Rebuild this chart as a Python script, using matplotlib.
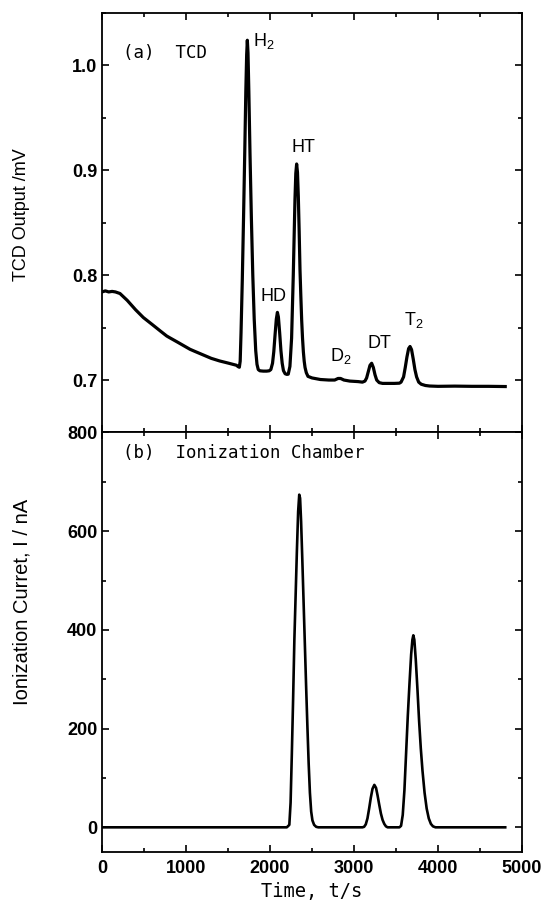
import matplotlib
matplotlib.use('Agg')
import matplotlib.pyplot as plt
from matplotlib.ticker import MultipleLocator, FormatStrFormatter

# ---- DATA ----
tcd_time = [0, 40, 80, 120, 160, 214, 300, 400, 492, 600, 700, 770, 800, 900,
            1000, 1048, 1100, 1200, 1300, 1400, 1500, 1600, 1620, 1635,
            1645, 1655, 1670, 1685, 1700, 1712, 1722, 1730, 1738, 1748, 1762,
            1778, 1795, 1812, 1830, 1845, 1860, 1880, 1920, 1960, 1990,
            2010, 2030, 2045, 2060, 2075, 2088, 2100, 2115, 2130, 2145, 2160,
            2180, 2200, 2217, 2237, 2257, 2277, 2297, 2307, 2317, 2327, 2337,
            2347, 2357, 2367, 2377, 2387, 2397, 2407, 2417, 2432, 2452, 2500,
            2600, 2700, 2770, 2810, 2840, 2880, 2950, 3050, 3100, 3130, 3150,
            3170, 3190, 3210, 3230, 3250, 3270, 3300, 3340, 3400, 3480, 3540,
            3560, 3590, 3610, 3630, 3650, 3667, 3685, 3705, 3725, 3745, 3770,
            3800, 3850, 3900, 4000, 4200, 4400, 4600, 4800]
tcd_mv = [0.784, 0.785, 0.784, 0.7845, 0.784, 0.7825, 0.776, 0.767, 0.7596,
          0.7528, 0.7464, 0.742, 0.7406, 0.7361, 0.7315, 0.7293, 0.7275,
          0.7241, 0.7207, 0.7182, 0.7162, 0.7141, 0.7128, 0.7122,
          0.718, 0.745, 0.795, 0.855, 0.92, 0.975, 1.010, 1.024, 1.012, 0.975,
          0.915, 0.855, 0.80, 0.758, 0.728, 0.715, 0.710, 0.7088, 0.7085,
          0.7085, 0.7088, 0.710, 0.716, 0.727, 0.743, 0.758, 0.7645, 0.760,
          0.745, 0.728, 0.716, 0.709, 0.706, 0.7054, 0.7056, 0.713, 0.74,
          0.80, 0.872, 0.897, 0.906, 0.898, 0.875, 0.842, 0.805, 0.78, 0.757,
          0.74, 0.727, 0.718, 0.712, 0.707, 0.7035, 0.702, 0.7005, 0.700,
          0.700, 0.7015, 0.7015, 0.700, 0.699, 0.6985, 0.698, 0.699, 0.702,
          0.708, 0.714, 0.716, 0.712, 0.705, 0.700, 0.6975, 0.6968, 0.6968,
          0.6968, 0.697, 0.698, 0.703, 0.712, 0.722, 0.730, 0.732, 0.729,
          0.720, 0.710, 0.703, 0.698, 0.696, 0.6948, 0.6943, 0.694, 0.6942,
          0.694, 0.694, 0.6938]

ion_time = [0, 1000, 2000, 2200, 2230, 2245, 2260, 2275, 2290, 2305, 2320,
            2335, 2348, 2358, 2370, 2385, 2400, 2415, 2430, 2445, 2460, 2475,
            2490, 2505, 2525, 2550, 2575, 3100, 3120, 3140, 3160, 3180, 3200,
            3220, 3242, 3262, 3280, 3300, 3320, 3340, 3360, 3380, 3400, 3540,
            3560, 3580, 3600, 3620, 3640, 3660, 3680, 3695, 3706, 3718, 3735,
            3755, 3775, 3795, 3815, 3840, 3865, 3890, 3915, 3940, 3970, 4800]
ion_na = [0, 0, 0, 0, 5, 50, 150, 260, 380, 470, 560, 640, 674, 667, 620,
          540, 455, 370, 285, 205, 130, 70, 32, 14, 5, 1, 0, 0, 1, 6, 18, 38,
          60, 78, 86, 80, 65, 46, 28, 15, 7, 2, 0, 0, 3, 25, 75, 150, 225,
          290, 350, 380, 389, 380, 340, 280, 215, 160, 115, 70, 38, 18, 7, 2,
          0, 0]

peak_labels = ['H$_2$', 'HD', 'HT', 'D$_2$', 'DT', 'T$_2$']
peak_label_t = [1798, 1881, 2258, 2714, 3159, 3595]
peak_label_v = [1.0237, 0.7798, 0.9218, 0.7225, 0.735, 0.7575]

# ---- PLOT ----
plt.rcParams['font.family'] = ['Liberation Sans', 'DejaVu Sans']
plt.rcParams['mathtext.fontset'] = 'custom'
plt.rcParams['mathtext.rm'] = 'Liberation Sans'
plt.rcParams['axes.linewidth'] = 1.3

fig, (ax1, ax2) = plt.subplots(2, 1, sharex=True, figsize=(5.44, 9.06), dpi=100)
fig.subplots_adjust(left=0.1875, right=0.9596, top=0.9857, bottom=0.0596, hspace=0)

ax1.plot(tcd_time, tcd_mv, color='black', lw=2.3, solid_joinstyle='round')
ax2.plot(ion_time, ion_na, color='black', lw=1.9, solid_joinstyle='round')

ax1.set_xlim(0, 5000)
ax1.set_ylim(0.65, 1.05)
ax2.set_ylim(-50, 800)

ax1.yaxis.set_major_locator(MultipleLocator(0.1))
ax1.yaxis.set_minor_locator(MultipleLocator(0.05))
ax1.yaxis.set_major_formatter(FormatStrFormatter('%.1f'))
ax2.yaxis.set_major_locator(MultipleLocator(200))
ax2.yaxis.set_minor_locator(MultipleLocator(100))
ax2.xaxis.set_major_locator(MultipleLocator(1000))
ax2.xaxis.set_minor_locator(MultipleLocator(500))

for ax in (ax1, ax2):
    ax.tick_params(which='both', direction='in', top=True, right=True, width=1.2)
    ax.tick_params(which='major', length=5)
    ax.tick_params(which='minor', length=3)
ax1.set_yticks([0.7, 0.8, 0.9, 1.0])
ax2.set_yticks([0, 200, 400, 600, 800])
for lab in ax1.get_yticklabels() + ax2.get_yticklabels() + ax2.get_xticklabels():
    lab.set_fontsize(13)
    lab.set_fontweight('bold')
ax2.tick_params(axis='x', pad=6)

for lab, t, v in zip(peak_labels, peak_label_t, peak_label_v):
    ax1.text(t, v, lab, fontsize=13, ha='left', va='center')

ax1.text(0.05, 0.905, '(a)  TCD', transform=ax1.transAxes, fontsize=12.5,
         family='DejaVu Sans Mono', va='center')
ax2.text(0.05, 0.95, '(b)  Ionization Chamber', transform=ax2.transAxes,
         fontsize=12.5, family='DejaVu Sans Mono', va='center')

fig.text(22 / 544, 1 - 215 / 906, 'TCD Output /mV', rotation=90, fontsize=13,
         ha='center', va='center')
fig.text(22 / 544, 1 - 602 / 906, 'Ionization Curret, I / nA', rotation=90,
         fontsize=14.5, ha='center', va='center')
fig.text(312 / 544, 1 - 892 / 906, 'Time, t/s', fontsize=13.5,
         family='DejaVu Sans Mono', ha='center', va='center')

fig.savefig('out.png', dpi=100)
